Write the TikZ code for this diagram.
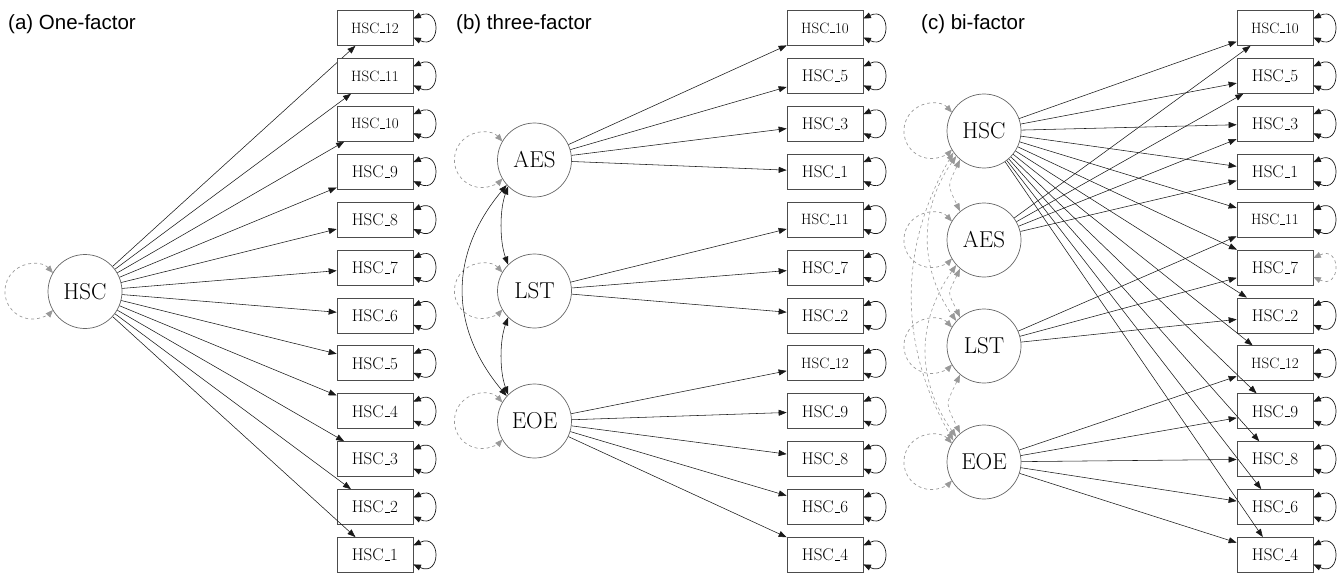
\documentclass[tikz,border=0pt]{standalone}
\usepackage{fontspec}
\newfontfamily\panelfont{Liberation Sans}
\usetikzlibrary{arrows.meta}
% short baseline underscore, as in classic TeX
\newcommand\usc{\leavevmode\kern.06em\vbox{\hrule width .3em height .045em}\kern.02em}
\begin{document}
\begin{tikzpicture}[x=1pt,y=-1pt,
  latent/.style={circle, draw=black!60, line width=0.7pt, fill=white,
    minimum size=74pt, inner sep=0pt, font=\fontsize{23}{23}\selectfont},
  manifest/.style={rectangle, draw=black!70, line width=0.7pt, fill=white,
    minimum width=76pt, minimum height=35pt, inner sep=0pt},
  load/.style={-{Triangle[length=8pt,width=6pt]}, line width=0.55pt, black!90},
  resid/.style={{Triangle[length=7.5pt,width=6pt]}-{Triangle[length=7.5pt,width=6pt]}, line width=0.7pt, black!90},
  fixresid/.style={{Triangle[length=7.5pt,width=6pt]}-{Triangle[length=7.5pt,width=6pt]}, line width=0.7pt, black!40, dash pattern=on 3pt off 3pt},
  cov/.style={{Triangle[length=8pt,width=6pt]}-{Triangle[length=8pt,width=6pt]}, line width=0.55pt, black!90},
  fixcov/.style={{Triangle[length=8pt,width=6pt]}-{Triangle[length=8pt,width=6pt]}, line width=0.6pt, black!40, dash pattern=on 3pt off 3pt},
  title/.style={anchor=west, inner sep=0pt, font=\panelfont\fontsize{20.5}{20.5}\selectfont}
]
\useasboundingbox (0,0) rectangle (1340,575);

% residual variance of a latent: dashed loop on its left side
\newcommand\latloop[1]{\draw[fixresid] ([shift={(150:37pt)}]#1.center) arc[start angle=42, end angle=318, radius=27.6pt];}
% residual variance of an indicator: loop on the right side of the box
\newcommand\boxloop[2][resid]{\draw[#1] ([yshift=9.5pt]#2.east) .. controls +(28pt,13pt) and +(28pt,-13pt) .. ([yshift=-9.5pt]#2.east);}

% ---------------- (a) one-factor ----------------
\node[title] (ta) at (8,24) {(a) One-factor};
\node[latent] (aHSC) at (85,291.5) {HSC};
\latloop{aHSC}
\foreach \k [count=\i from 0] in {12,11,10,9,8,7,6,5,4,3,2,1} {
  \pgfmathsetmacro\yy{28+47.9*\i}
  \ifnum\k>9 \def\labsize{15}\else\def\labsize{17}\fi
  \node[manifest, font=\fontsize{\labsize}{\labsize}\selectfont] (a\k) at (375,\yy) {HSC\usc\k};
  \draw[load] (aHSC) -- (a\k);
  \boxloop{a\k}
}

% ---------------- (b) three-factor ----------------
\node[title] (tb) at (456,24) {(b) three-factor};
\node[latent] (bAES) at (534.5,160) {AES};
\node[latent] (bLST) at (534.5,291) {LST};
\node[latent] (bEOE) at (534.5,421) {EOE};
\latloop{bAES}
\latloop{bLST}
\latloop{bEOE}
\foreach \k [count=\i from 0] in {10,5,3,1,11,7,2,12,9,8,6,4} {
  \pgfmathsetmacro\yy{28+47.9*\i}
  \ifnum\k>9 \def\labsize{15}\else\def\labsize{17}\fi
  \node[manifest, font=\fontsize{\labsize}{\labsize}\selectfont] (b\k) at (825,\yy) {HSC\usc\k};
  \boxloop{b\k}
}
\foreach \k in {10,5,3,1} {\draw[load] (bAES) -- (b\k);}
\foreach \k in {11,7,2} {\draw[load] (bLST) -- (b\k);}
\foreach \k in {12,9,8,6,4} {\draw[load] (bEOE) -- (b\k);}
\draw[cov] (bAES.225) .. controls +(250:25pt) and +(110:25pt) .. (bLST.135);
\draw[cov] (bLST.225) .. controls +(250:25pt) and +(110:25pt) .. (bEOE.135);
\draw[cov] (bAES.222) .. controls +(230:90pt) and +(130:90pt) .. (bEOE.138);

% ---------------- (c) bi-factor ----------------
\node[title] (tc) at (921,24) {(c) bi-factor};
\node[latent] (cHSC) at (984,131) {HSC};
\node[latent] (cAES) at (984,240) {AES};
\node[latent] (cLST) at (984,346) {LST};
\node[latent] (cEOE) at (984,462) {EOE};
\latloop{cHSC}
\latloop{cAES}
\latloop{cLST}
\latloop{cEOE}
\foreach \k [count=\i from 0] in {10,5,3,1,11,7,2,12,9,8,6,4} {
  \pgfmathsetmacro\yy{28+47.9*\i}
  \ifnum\k>9 \def\labsize{15}\else\def\labsize{17}\fi
  \node[manifest, font=\fontsize{\labsize}{\labsize}\selectfont] (c\k) at (1275,\yy) {HSC\usc\k};
}
\foreach \k in {10,5,3,1,11,2,12,9,8,6,4} {\boxloop{c\k}}
\boxloop[fixresid]{c7}
\foreach \k in {10,5,3,1,11,7,2,12,9,8,6,4} {\draw[load] (cHSC) -- (c\k);}
\foreach \k in {10,5,3,1} {\draw[load] (cAES) -- (c\k);}
\foreach \k in {11,7,2} {\draw[load] (cLST) -- (c\k);}
\foreach \k in {12,9,8,6,4} {\draw[load] (cEOE) -- (c\k);}
% factor covariances fixed to zero
\draw[fixcov] (cHSC.230) .. controls +(245:30pt) and +(115:30pt) .. (cAES.130);
\draw[fixcov] (cAES.230) .. controls +(245:30pt) and +(115:30pt) .. (cLST.130);
\draw[fixcov] (cLST.230) .. controls +(245:35pt) and +(115:35pt) .. (cEOE.130);
\draw[fixcov] (cHSC.222) .. controls +(235:65pt) and +(125:65pt) .. (cLST.138);
\draw[fixcov] (cAES.222) .. controls +(235:70pt) and +(125:70pt) .. (cEOE.138);
\draw[fixcov] (cHSC.215) .. controls +(240:110pt) and +(120:110pt) .. (cEOE.145);
\end{tikzpicture}
\end{document}
